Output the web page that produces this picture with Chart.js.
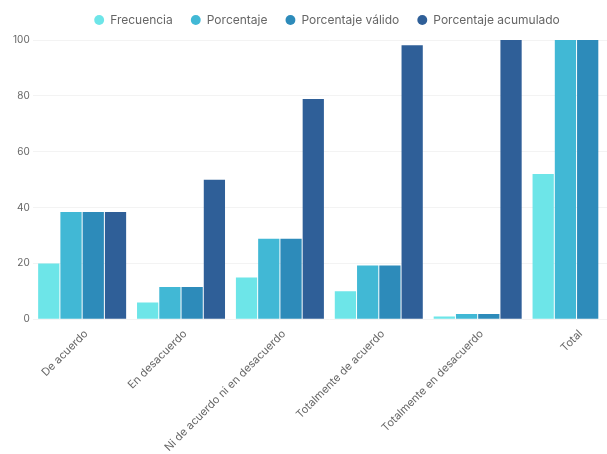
<!DOCTYPE html>
<html lang="es">
<head>
<meta charset="utf-8">
<title>Distribución de respuestas</title>
<script src="https://cdn.jsdelivr.net/npm/chart.js@4"></script>
<style>
  html, body { margin: 0; padding: 0; background: #ffffff; overflow: hidden; }
  #wrap { position: relative; width: 626px; height: 480px; }
</style>
</head>
<body>
<div id="wrap"><canvas id="chart"></canvas></div>
<script>
// Categorías de respuesta
const categories = [
  'De acuerdo',
  'En desacuerdo',
  'Ni de acuerdo ni en desacuerdo',
  'Totalmente de acuerdo',
  'Totalmente en desacuerdo',
  'Total'
];

// Series de la tabla de frecuencias
const frecuencia = [20, 6, 15, 10, 1, 52];
const porcentaje = [38.46, 11.54, 28.85, 19.23, 1.92, 100];
const porcentajeValido = [38.46, 11.54, 28.85, 19.23, 1.92, 100];
const porcentajeAcumulado = [38.46, 50.0, 78.85, 98.08, 100, null];

const seriesNames = ['Frecuencia', 'Porcentaje', 'Porcentaje válido', 'Porcentaje acumulado'];
const seriesColors = ['#6de5e8', '#41b8d5', '#2d8bba', '#2f5f98'];

// Eje Y
const yTicks = [0, 20, 40, 60, 80, 100];

const seriesData = [frecuencia, porcentaje, porcentajeValido, porcentajeAcumulado];

const FONT = 'Inter, "Noto Sans", sans-serif';
const TEXT = '#666666';

// Centra la leyenda sobre un ancho fijo y la sube ligeramente
const legendPlacement = {
  id: 'legendPlacement',
  afterLayout(chart) {
    const lg = chart.legend;
    if (!lg) return;
    lg.left = 0;
    lg.right = 654;
    lg.top = lg.top - 4;
  }
};

new Chart(document.getElementById('chart'), {
  type: 'bar',
  data: {
    labels: categories,
    datasets: seriesNames.map((name, i) => ({
      label: name,
      data: seriesData[i],
      backgroundColor: seriesColors[i],
      borderWidth: 0,
      categoryPercentage: 0.9,
      barPercentage: 0.955
    }))
  },
  options: {
    responsive: true,
    maintainAspectRatio: false,
    animation: false,
    layout: { padding: 0 },
    plugins: {
      legend: {
        position: 'top',
        align: 'center',
        labels: {
          usePointStyle: true,
          pointStyle: 'circle',
          boxWidth: 10,
          boxHeight: 7,
          padding: 18,
          color: TEXT,
          font: { family: FONT, size: 12 }
        }
      },
      tooltip: { enabled: false }
    },
    scales: {
      x: {
        grid: { display: false, drawTicks: false },
        border: { display: false },
        ticks: {
          color: TEXT,
          font: { family: FONT, size: 11 },
          minRotation: 45,
          maxRotation: 45,
          padding: 8,
          labelOffset: 4,
          autoSkip: false
        },
        afterFit(scale) { scale.height = 160.7; }
      },
      y: {
        min: 0,
        max: 100,
        afterBuildTicks(scale) { scale.ticks = yTicks.map(v => ({ value: v })); },
        grid: { color: '#f3f3f3', drawTicks: false, lineWidth: 1 },
        border: { display: false },
        ticks: {
          color: TEXT,
          font: { family: FONT, size: 10 },
          padding: 3
        },
        afterFit(scale) { scale.width = 32.7; }
      }
    }
  },
  plugins: [legendPlacement]
});
</script>
</body>
</html>
